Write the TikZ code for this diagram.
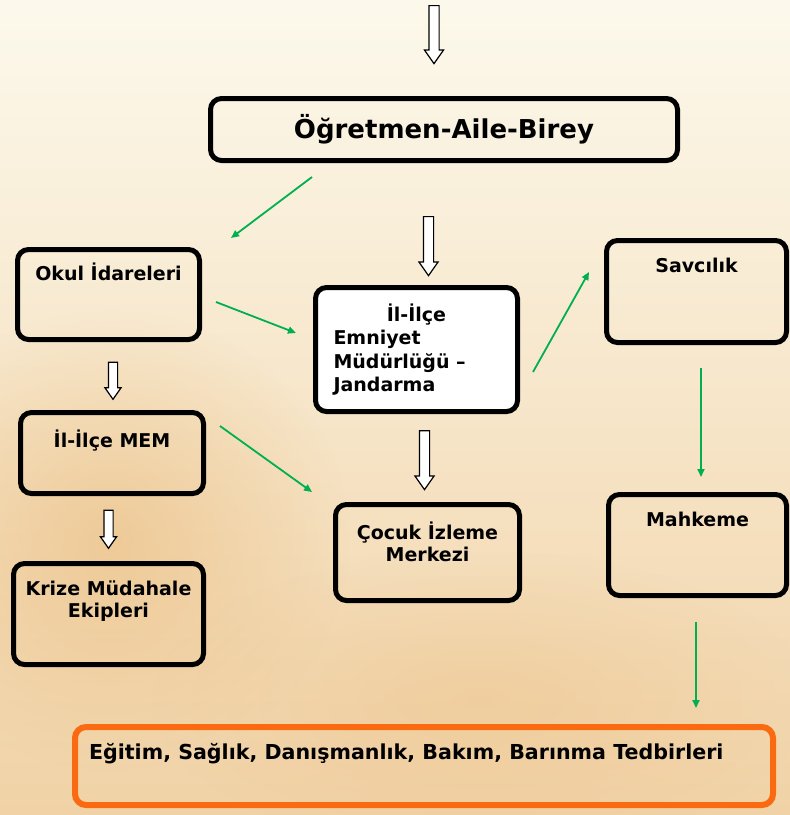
\documentclass[tikz,border=0pt]{standalone}
\usepackage{fontspec}
\setmainfont{DejaVu Sans}
\usetikzlibrary{positioning,shapes.arrows,arrows.meta,fadings}

\definecolor{okgreen}{RGB}{0,176,80}
\definecolor{tedbirorange}{RGB}{250,106,16}
\definecolor{bgtop}{RGB}{252,249,236}
\definecolor{bgmid}{RGB}{248,232,202}
\definecolor{bgbot}{RGB}{241,210,166}
\definecolor{bgpatch}{RGB}{234,188,126}

\tikzfading[name=softblob, inner color=transparent!0, outer color=transparent!100]

% text placed at the top of a box
\newcommand{\toplabel}[4][17pt]{\parbox[c][#3][t]{#2}{\centering\vspace*{#1}\strut #4}}

\begin{document}
\begin{tikzpicture}[x=1pt,y=-1pt,
				block/.style={rectangle, draw=black, line width=5pt, rounded corners=11pt, inner sep=0pt, font=\bfseries\fontsize{19}{22}\selectfont},
				hollow/.style={single arrow, draw=black, fill=white, line width=1.2pt, inner sep=4.5pt, shape border rotate=270, single arrow tip angle=70, single arrow head extend=4.5pt},
				small/.style={inner sep=4pt, single arrow head extend=3.5pt},
				link/.style={okgreen, line width=1.8pt, -{Triangle[length=8pt,width=7pt]}}
			]
			\useasboundingbox (0,0) rectangle (790,815);
			% background
			\shade[top color=bgtop, middle color=bgmid, bottom color=bgbot] (0,0) rectangle (790,815);
			\fill[bgpatch, path fading=softblob, opacity=.6] (110,540) ellipse (240 and 230);
			\fill[bgpatch, path fading=softblob, opacity=.35] (480,700) ellipse (330 and 150);

			\node[block, minimum width=467pt, minimum height=62pt, font=\bfseries\fontsize{26}{30}\selectfont] (oab) at (444,129.5) {Öğretmen-Aile-Birey};
			\node[block] (okul) at (108.5,294.5) {\toplabel[13pt]{182pt}{90pt}{Okul İdareleri}};
			\node[block, fill=white] (emniyet) at (416.5,349.5) {\parbox[c][124pt][c]{202pt}{\baselineskip=23.5pt\centering İl-İlçe\par\raggedright\leftskip=18pt Emniyet\\Müdürlüğü –\\Jandarma}};
			\node[block] (savcilik) at (696.5,291.5) {\toplabel{180pt}{102pt}{Savcılık}};
			\node[block] (mem) at (112,453) {\toplabel{183pt}{81pt}{İl-İlçe MEM}};
			\node[block] (cocuk) at (427.5,552.5) {\toplabel{184pt}{96pt}{Çocuk İzleme\\Merkezi}};
			\node[block] (mahkeme) at (697.5,545) {\toplabel{178pt}{101pt}{Mahkeme}};
			\node[block] (krize) at (108.5,614) {\toplabel{190pt}{101pt}{Krize Müdahale\\Ekipleri}};
			\node[block, draw=tedbirorange, line width=6pt, font=\bfseries\fontsize{20.6}{22}\selectfont] (tedbir) at (424,766) {\parbox[c][78pt][t]{698pt}{\vspace*{16pt}\hspace*{14pt}\strut Eğitim, Sağlık, Danışmanlık, Bakım, Barınma Tedbirleri}};

			% hollow arrows
			\node[hollow, minimum height=58pt] (in) at (434,31) {};
			\node[hollow, minimum height=59pt] (oabdown) at (428.5,242.5) {};
			\node[hollow, small, minimum height=37pt] (okuldown) at (113,377.5) {};
			\node[hollow, minimum height=59pt] (emniyetdown) at (424.5,456.5) {};
			\node[hollow, small, minimum height=38pt] (memdown) at (108.5,526) {};

			% green links
			\coordinate (oab-out) at (312,177);
			\coordinate (okul-in) at (231,238);
			\coordinate (okul-out) at (216,302);
			\coordinate (emniyet-in) at (296,333);
			\coordinate (emniyet-out) at (533,372);
			\coordinate (savcilik-in) at (589,272);
			\coordinate (mem-out) at (220,426);
			\coordinate (cocuk-in) at (312,492);
			\coordinate (savcilik-out) at (701,368);
			\coordinate (mahkeme-in) at (701,477);
			\coordinate (mahkeme-out) at (696,622);
			\coordinate (tedbir-in) at (696,708);
			\draw[link] (oab-out) -- (okul-in);
			\draw[link] (okul-out) -- (emniyet-in);
			\draw[link] (emniyet-out) -- (savcilik-in);
			\draw[link] (mem-out) -- (cocuk-in);
			\draw[link] (savcilik-out) -- (mahkeme-in);
			\draw[link] (mahkeme-out) -- (tedbir-in);
			\end{tikzpicture}
\end{document}
